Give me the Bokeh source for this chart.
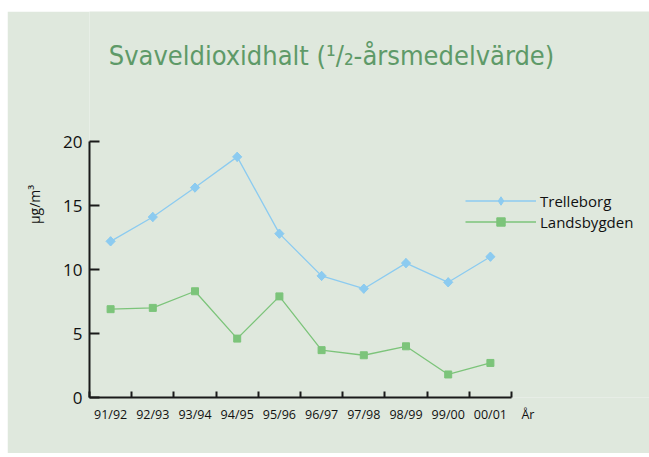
from bokeh.plotting import figure
from bokeh.models import Range1d, FixedTicker, Legend, LegendItem, Label, LinearAxis
from bokeh.embed import file_html
from bokeh.resources import INLINE
import numpy as np

# ---- data ----
periods = ["91/92", "92/93", "93/94", "94/95", "95/96",
           "96/97", "97/98", "98/99", "99/00", "00/01"]
trelleborg = [12.2, 14.1, 16.4, 18.8, 12.8, 9.5, 8.5, 10.5, 9.0, 11.0]
landsbygden = [6.9, 7.0, 8.3, 4.6, 7.9, 3.7, 3.3, 4.0, 1.8, 2.7]
y_ticks = [0, 5, 10, 15, 20]
y_max = 20
x_unit_label = "År"
title_text = "Svaveldioxidhalt (\u00b9/\u2082-årsmedelvärde)"

BG = "#dfe8dd"
BLUE = "#8ccbf0"
GREEN = "#7cc47a"
AXIS = "#1a1a1a"
TXT = "#111111"

n = len(periods)
xc = np.arange(n) + 0.5

# ---- layout (pixels) ----
W, H = 642, 442          # panel size
FL = 82                  # frame left
AX_W, AX_H = 422, 256    # axis extent (px) for n categories / 0..y_max
BOT = 56                 # space below x axis
FW, FH = W - FL, H - BOT
x_end = n * FW / AX_W
y_end = y_max * FH / AX_H

p = figure(width=W, height=H, output_backend="svg", toolbar_location=None,
           x_range=Range1d(0, x_end), y_range=Range1d(0, y_end),
           x_axis_location=None, title=None,
           min_border_left=FL, min_border_top=0,
           min_border_right=0, min_border_bottom=BOT)
p.margin = (11, 0, 0, 7)
p.background_fill_color = BG
p.border_fill_color = BG
p.outline_line_color = None
p.grid.visible = False

lt = p.line(xc, trelleborg, line_color=BLUE, line_width=1.3)
st = p.scatter(xc, trelleborg, marker="diamond", size=9, fill_color=BLUE, line_color=BLUE)
p.scatter(xc, trelleborg, marker="square", angle=np.pi / 4, size=6.5,
          fill_color=BLUE, line_color=BLUE)
ll = p.line(xc, landsbygden, line_color=GREEN, line_width=1.3)
sl = p.scatter(xc, landsbygden, marker="square", size=7, fill_color=GREEN, line_color=GREEN)

# x axis line with boundary ticks
xa = LinearAxis(ticker=FixedTicker(ticks=[], minor_ticks=list(range(n + 1))),
                bounds=(0, n))
xa.major_tick_in = 0
xa.major_tick_out = 0
xa.minor_tick_in = 6
xa.minor_tick_out = 0
xa.minor_tick_line_color = AXIS
xa.minor_tick_line_width = 2
xa.axis_line_color = AXIS
xa.axis_line_width = 2
xa.major_label_text_font_size = "0px"
xa.major_label_standoff = 0
p.add_layout(xa, "below")

# x labels at category centres, plus unit label
x_ar = n + 0.39
xl = LinearAxis(ticker=FixedTicker(ticks=list(xc) + [x_ar], minor_ticks=[]))
overrides = {float(x): lab for x, lab in zip(xc, periods)}
overrides[float(x_ar)] = x_unit_label
xl.major_label_overrides = overrides
xl.axis_line_color = None
xl.major_tick_in = 0
xl.major_tick_out = 0
xl.minor_tick_in = 0
xl.minor_tick_out = 0
xl.major_label_text_font = "Open Sans"
xl.major_label_text_font_size = "12.5px"
xl.major_label_text_color = TXT
xl.major_label_standoff = 8
p.add_layout(xl, "below")

ya = p.yaxis[0]
ya.ticker = FixedTicker(ticks=y_ticks, minor_ticks=[])
ya.bounds = (0, y_max)
ya.major_tick_in = 10
ya.major_tick_out = 0
ya.major_tick_line_color = AXIS
ya.major_tick_line_width = 2
ya.axis_line_color = AXIS
ya.axis_line_width = 2
ya.major_label_text_font = "Open Sans"
ya.major_label_text_font_size = "17px"
ya.major_label_text_color = TXT
ya.major_label_standoff = 7
ya.axis_label = "µg/m³"
ya.axis_label_text_font = "Open Sans"
ya.axis_label_text_font_size = "14px"
ya.axis_label_text_font_style = "normal"
ya.axis_label_text_color = TXT
ya.axis_label_standoff = 16

legend = Legend(items=[LegendItem(label="Trelleborg", renderers=[lt, st]),
                       LegendItem(label="Landsbygden", renderers=[ll, sl])],
                location=(376, 165), orientation="vertical",
                glyph_width=71, glyph_height=21, label_height=21,
                label_standoff=4, padding=0, margin=0, spacing=0,
                border_line_color=None, background_fill_alpha=0,
                label_text_font="Open Sans", label_text_font_size="15px",
                label_text_color=TXT)
p.add_layout(legend, "center")

p.add_layout(Label(x=n * (331 - 89) / AX_W, y=y_max * (397 - 55) / AX_H, text=title_text,
                   text_font="DejaVu Sans Condensed, Roboto", text_font_size="27px",
                   text_color="#5e9a68", text_align="center", text_baseline="middle"))

open("out.html", "w").write(file_html(p, INLINE))
